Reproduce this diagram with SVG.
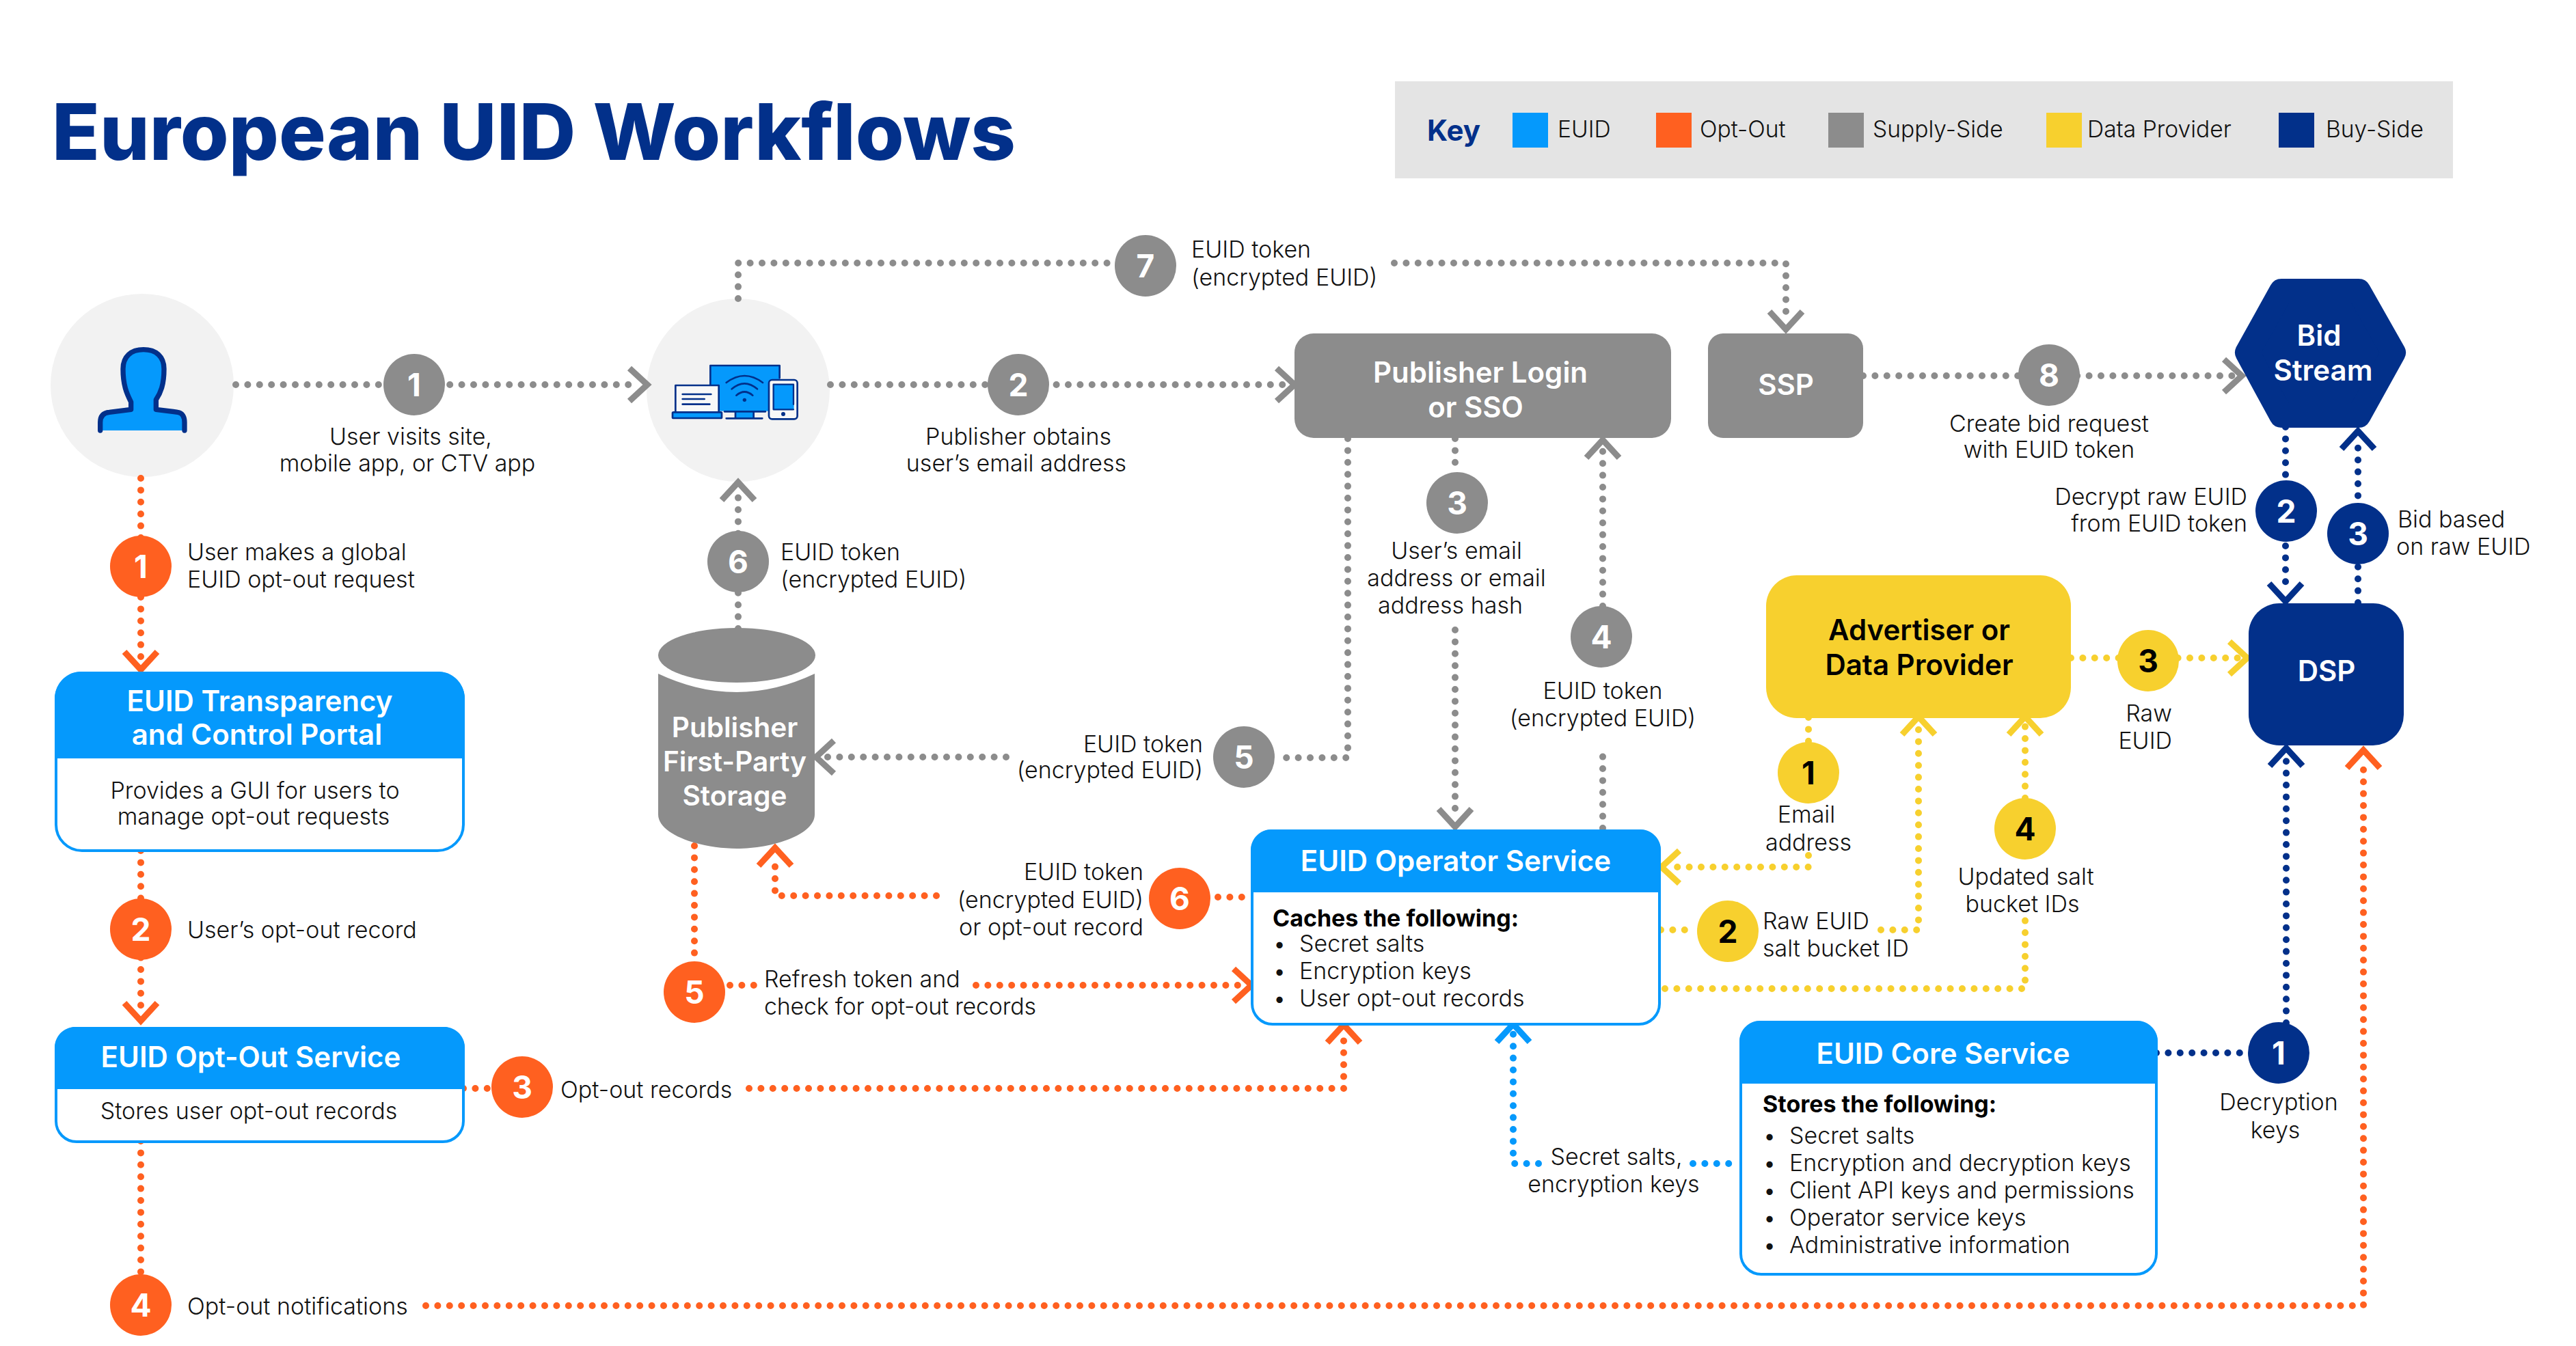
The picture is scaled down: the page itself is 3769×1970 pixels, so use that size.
<svg xmlns="http://www.w3.org/2000/svg" width="3769" height="1970" viewBox="0 0 3769 1970">
<style>
text{font-family:"Inter","Liberation Sans",sans-serif}
.l{font-size:34px;font-weight:300;fill:#111}
.c{text-anchor:middle}
.r{text-anchor:end}
.h{font-size:42px;font-weight:600;fill:#fff;text-anchor:middle}
.s{font-size:40.5px}
.b{font-size:34px;font-weight:700;fill:#000}
.n{font-size:46px;font-weight:700;text-anchor:middle;fill:#fff}
.k{fill:#000}
.kk{font-size:33.6px}
.d{fill:none;stroke-width:10;stroke-linecap:round;stroke-linejoin:round;stroke-dasharray:0 17.4}
.gy{stroke:#8c8c8c}.or{stroke:#ff6020}.ye{stroke:#f7d02e}.na{stroke:#02308a}.bl{stroke:#0599fc}
.fg{fill:#8c8c8c}.fo{fill:#ff6020}.fy{fill:#f7d02e}.fn{fill:#02308a}.fb{fill:#0599fc}
.ico{stroke:#02308a;stroke-linecap:round;stroke-linejoin:round}
</style>
<defs>
<marker id="mg" markerUnits="userSpaceOnUse" markerWidth="1" markerHeight="1" overflow="visible" orient="auto"><path d="M-14,-24 L12,0 L-14,24" fill="none" stroke="#8c8c8c" stroke-width="9"/></marker>
<marker id="mo" markerUnits="userSpaceOnUse" markerWidth="1" markerHeight="1" overflow="visible" orient="auto"><path d="M-14,-24 L12,0 L-14,24" fill="none" stroke="#ff6020" stroke-width="9"/></marker>
<marker id="my" markerUnits="userSpaceOnUse" markerWidth="1" markerHeight="1" overflow="visible" orient="auto"><path d="M-14,-24 L12,0 L-14,24" fill="none" stroke="#f7d02e" stroke-width="9"/></marker>
<marker id="mn" markerUnits="userSpaceOnUse" markerWidth="1" markerHeight="1" overflow="visible" orient="auto"><path d="M-14,-24 L12,0 L-14,24" fill="none" stroke="#02308a" stroke-width="9"/></marker>
<marker id="mb" markerUnits="userSpaceOnUse" markerWidth="1" markerHeight="1" overflow="visible" orient="auto"><path d="M-14,-24 L12,0 L-14,24" fill="none" stroke="#0599fc" stroke-width="9"/></marker>
</defs>
<rect width="3769" height="1970" fill="#fff"/>
<text id="title" x="76" y="234" font-size="114" font-weight="800" fill="#02308a" textLength="1410" lengthAdjust="spacingAndGlyphs">European UID Workflows</text>
<g id="key">
<rect x="2041" y="119" width="1548" height="142" fill="#e4e4e4"/>
<text x="2088" y="206" font-size="42" font-weight="700" fill="#02308a">Key</text>
<rect x="2213" y="165" width="52" height="51" class="fb"/><text x="2279" y="201" class="l kk">EUID</text>
<rect x="2423" y="165" width="52" height="51" class="fo"/><text x="2487" y="201" class="l kk">Opt-Out</text>
<rect x="2675" y="165" width="52" height="51" class="fg"/><text x="2740" y="201" class="l kk">Supply-Side</text>
<rect x="2994" y="165" width="52" height="51" class="fy"/><text x="3054" y="201" class="l kk">Data Provider</text>
<rect x="3334" y="165" width="52" height="51" class="fn"/><text x="3403" y="201" class="l kk">Buy-Side</text>
</g>
<g id="node-user">
<circle cx="208" cy="564" r="134" fill="#f2f2f2"/>
<g transform="translate(120,490) scale(.3333)">
<path class="fb" d="M80,420V385C80,355 95,342 120,340L215,328L215,295C195,255 180,220 180,150C180,95 215,65 270,65C325,65 360,95 360,150C360,220 345,255 325,285L325,328L420,340C440,342 450,360 450,385V420Z"/>
<path class="ico" fill="none" stroke-width="22" d="M80,420V385C80,355 95,342 120,340L215,328L215,295C195,255 180,220 180,150C180,95 215,65 270,65C325,65 360,95 360,150C360,220 345,255 325,285L325,328L420,340C440,342 450,360 450,385V420"/>
</g>
</g>
<g id="node-devices">
<circle cx="1080" cy="571" r="134" fill="#f2f2f2"/>
<g transform="translate(970,520) scale(.3333)">
<rect x="208" y="45" width="304" height="200" class="fb"/>
<path class="ico" fill="none" stroke-width="8" d="M208,45H512M208,45V130M512,45V100"/>
<path d="M278,120Q358,60 438,120M302,148Q358,100 414,148M322,176Q358,145 394,176" fill="none" class="ico" stroke-width="8"/>
<circle cx="358" cy="196" r="8" fill="#02308a"/>
<rect x="318" y="248" width="80" height="28" class="fb"/>
<path class="ico" fill="none" stroke-width="8" d="M270,247H450M318,248V276M398,248V276M278,277H436"/>
<rect x="55" y="132" width="190" height="118" fill="#f8f8f8" class="ico" stroke-width="8"/>
<path class="ico" fill="none" stroke-width="8" d="M86,171H211M86,192H182M86,215H205"/>
<rect x="42" y="250" width="216" height="26" rx="4" class="fb ico" stroke-width="8"/>
<rect x="465" y="108" width="125" height="172" rx="14" fill="#f8f8f8" class="ico" stroke-width="8"/>
<rect x="485" y="128" width="90" height="112" class="fb"/>
<path class="ico" fill="none" stroke-width="7" d="M485,128H573V215M485,128V238H573"/>
<circle cx="528" cy="258" r="9" fill="#02308a"/>
</g>
</g>
<g transform="translate(0,2)">
<g id="connectors">
<path class="d gy" d="M345,561H935" marker-end="url(#mg)"/>
<path class="d gy" d="M1215,561H1882" marker-end="url(#mg)"/>
<path class="d gy" d="M1080,435V383H1630"/>
<path class="d gy" d="M2040,383H2613V468" marker-end="url(#mg)"/>
<path class="d gy" d="M2726,548H3268" marker-end="url(#mg)"/>
<path class="d gy" d="M1080,918V716" marker-end="url(#mg)"/>
<path class="d gy" d="M2129,640V690"/>
<path class="d gy" d="M2129,920V1196" marker-end="url(#mg)"/>
<path class="d gy" d="M2345,1210V1090"/>
<path class="d gy" d="M2345,885V654" marker-end="url(#mg)"/>
<path class="d gy" d="M1972,640V1107H1875"/>
<path class="d gy" d="M1472,1106H1206" marker-end="url(#mg)"/>
<path class="d or" d="M206,698V966" marker-end="url(#mo)"/>
<path class="d or" d="M206,1243V1480" marker-end="url(#mo)"/>
<path class="d or" d="M678,1591H722"/>
<path class="d or" d="M1096,1591H1966V1510" marker-end="url(#mo)"/>
<path class="d or" d="M206,1668V1865"/>
<path class="d or" d="M623,1909H3458V1108" marker-end="url(#mo)"/>
<path class="d or" d="M1016,1236V1403"/>
<path class="d or" d="M1068,1440H1106"/>
<path class="d or" d="M1428,1440H1819" marker-end="url(#mo)"/>
<path class="d or" d="M1782,1311H1832"/>
<path class="d or" d="M1370,1309H1134V1251" marker-end="url(#mo)"/>
<path class="d ye" d="M2646,1048V1085"/>
<path class="d ye" d="M2646,1250V1267H2443" marker-end="url(#my)"/>
<path class="d ye" d="M2430,1359H2482"/>
<path class="d ye" d="M2752,1359H2807V1059" marker-end="url(#my)"/>
<path class="d ye" d="M2436,1445H2963V1342"/>
<path class="d ye" d="M2963,1166V1059" marker-end="url(#my)"/>
<path class="d ye" d="M3030,961H3276" marker-end="url(#my)"/>
<path class="d na" d="M3344,623V866" marker-end="url(#mn)"/>
<path class="d na" d="M3450,880V641" marker-end="url(#mn)"/>
<path class="d na" d="M3155,1539H3290"/>
<path class="d na" d="M3345,1495V1105" marker-end="url(#mn)"/>
<path class="d bl" d="M2251,1701H2214V1509" marker-end="url(#mb)"/>
<path class="d bl" d="M2477,1701H2545"/>
</g>
<g id="node-publisher"><rect x="1894" y="486" width="551" height="153" rx="28" class="fg"/><text x="2166" y="558" class="h">Publisher Login</text><text x="2159" y="609" class="h">or SSO</text></g>
<g id="node-ssp"><rect x="2499" y="486" width="227" height="153" rx="22" class="fg"/><text x="2613" y="576" class="h">SSP</text></g>
<g id="node-bidstream"><path d="M3338,424H3451L3502,514L3451,606H3338L3288,514Z" class="fn" stroke="#02308a" stroke-width="36" stroke-linejoin="round"/><text x="3393" y="504" class="h">Bid</text><text x="3399" y="555" class="h">Stream</text></g>
<g id="node-dsp"><rect x="3290" y="881" width="227" height="208" rx="45" class="fn"/><text x="3404" y="995" class="h">DSP</text></g>
<g id="node-advertiser"><rect x="2584" y="840" width="446" height="209" rx="45" class="fy"/><text x="2808" y="935" class="h k">Advertiser or</text><text x="2808" y="986" class="h k">Data Provider</text></g>
<g id="node-storage">
<ellipse cx="1078" cy="957" rx="115" ry="40" class="fg"/>
<path d="M963,984Q1078,1038 1192,984V1190C1192,1220 1130,1240 1078,1240C1026,1240 963,1220 963,1190Z" class="fg"/>
<text x="1075" y="1077" class="h s">Publisher</text><text x="1075" y="1127" class="h s">First-Party</text><text x="1075" y="1177" class="h s">Storage</text>
</g>
<g id="node-portal">
<rect x="82" y="983" width="596" height="260" rx="38" fill="#fff" stroke="#0599fc" stroke-width="4"/>
<path d="M80,1108V1021C80,998 98,981 118,981H642C662,981 680,998 680,1021V1108Z" class="fb"/>
<text x="380" y="1039" class="h">EUID Transparency</text><text x="376" y="1088" class="h">and Control Portal</text>
<text x="373" y="1167" class="l c">Provides a GUI for users to</text><text x="371" y="1205" class="l c">manage opt-out requests</text>
</g>
<g id="node-optout">
<rect x="82" y="1503" width="596" height="166" rx="30" fill="#fff" stroke="#0599fc" stroke-width="4"/>
<path d="M80,1592V1531C80,1514 94,1501 110,1501H650C666,1501 680,1514 680,1531V1592Z" class="fb"/>
<text x="367" y="1560" class="h">EUID Opt-Out Service</text><text x="364" y="1636" class="l c">Stores user opt-out records</text>
</g>
<g id="node-operator">
<rect x="1832" y="1214" width="596" height="283" rx="30" fill="#fff" stroke="#0599fc" stroke-width="4"/>
<path d="M1830,1304V1242C1830,1225 1844,1212 1860,1212H2400C2416,1212 2430,1225 2430,1242V1304Z" class="fb"/>
<text x="2130" y="1273" class="h">EUID Operator Service</text>
<text x="1862" y="1354" class="b">Caches the following:</text>
<text x="1872" y="1391" class="l c">•</text><text x="1901" y="1391" class="l">Secret salts</text>
<text x="1872" y="1431" class="l c">•</text><text x="1901" y="1431" class="l">Encryption keys</text>
<text x="1872" y="1471" class="l c">•</text><text x="1901" y="1471" class="l">User opt-out records</text>
</g>
<g id="node-core">
<rect x="2547" y="1494" width="608" height="369" rx="30" fill="#fff" stroke="#0599fc" stroke-width="4"/>
<path d="M2545,1584V1522C2545,1505 2559,1492 2575,1492H3127C3143,1492 3157,1505 3157,1522V1584Z" class="fb"/>
<text x="2843" y="1555" class="h">EUID Core Service</text>
<text x="2579" y="1626" class="b">Stores the following:</text>
<text x="2589" y="1672" class="l c">•</text><text x="2618" y="1672" class="l">Secret salts</text>
<text x="2589" y="1712" class="l c">•</text><text x="2618" y="1712" class="l">Encryption and decryption keys</text>
<text x="2589" y="1752" class="l c">•</text><text x="2618" y="1752" class="l">Client API keys and permissions</text>
<text x="2589" y="1792" class="l c">•</text><text x="2618" y="1792" class="l">Operator service keys</text>
<text x="2589" y="1832" class="l c">•</text><text x="2618" y="1832" class="l">Administrative information</text>
</g>
<g id="badges">
<g id="badge-g1"><circle cx="606" cy="561" r="45" class="fg"/><text x="606" y="578" class="n">1</text></g>
<g id="badge-g2"><circle cx="1490" cy="561" r="45" class="fg"/><text x="1490" y="578" class="n">2</text></g>
<g id="badge-g3"><circle cx="2132" cy="734" r="45" class="fg"/><text x="2132" y="751" class="n">3</text></g>
<g id="badge-g4"><circle cx="2343" cy="930" r="45" class="fg"/><text x="2343" y="947" class="n">4</text></g>
<g id="badge-g5"><circle cx="1820" cy="1106" r="45" class="fg"/><text x="1820" y="1123" class="n">5</text></g>
<g id="badge-g6"><circle cx="1080" cy="820" r="45" class="fg"/><text x="1080" y="837" class="n">6</text></g>
<g id="badge-g7"><circle cx="1676" cy="387" r="45" class="fg"/><text x="1676" y="404" class="n">7</text></g>
<g id="badge-g8"><circle cx="2998" cy="547" r="45" class="fg"/><text x="2998" y="564" class="n">8</text></g>
<g id="badge-o1"><circle cx="206" cy="827" r="45" class="fo"/><text x="206" y="844" class="n">1</text></g>
<g id="badge-o2"><circle cx="206" cy="1358" r="45" class="fo"/><text x="206" y="1375" class="n">2</text></g>
<g id="badge-o3"><circle cx="764" cy="1589" r="45" class="fo"/><text x="764" y="1606" class="n">3</text></g>
<g id="badge-o4"><circle cx="206" cy="1908" r="45" class="fo"/><text x="206" y="1925" class="n">4</text></g>
<g id="badge-o5"><circle cx="1016" cy="1450" r="45" class="fo"/><text x="1016" y="1467" class="n">5</text></g>
<g id="badge-o6"><circle cx="1726" cy="1313" r="45" class="fo"/><text x="1726" y="1330" class="n">6</text></g>
<g id="badge-y1"><circle cx="2646" cy="1129" r="45" class="fy"/><text x="2646" y="1146" class="n k">1</text></g>
<g id="badge-y2"><circle cx="2528" cy="1361" r="45" class="fy"/><text x="2528" y="1378" class="n k">2</text></g>
<g id="badge-y3"><circle cx="3143" cy="965" r="45" class="fy"/><text x="3143" y="982" class="n k">3</text></g>
<g id="badge-y4"><circle cx="2963" cy="1211" r="45" class="fy"/><text x="2963" y="1228" class="n k">4</text></g>
<g id="badge-n1"><circle cx="3334" cy="1539" r="45" class="fn"/><text x="3334" y="1556" class="n">1</text></g>
<g id="badge-n2"><circle cx="3345" cy="746" r="45" class="fn"/><text x="3345" y="763" class="n">2</text></g>
<g id="badge-n3"><circle cx="3450" cy="779" r="45" class="fn"/><text x="3450" y="796" class="n">3</text></g>
</g>
<g id="labels">
<text x="601" y="649" class="l c">User visits site,</text><text x="596" y="688" class="l c">mobile app, or CTV app</text>
<text x="1490" y="649" class="l c">Publisher obtains</text><text x="1487" y="688" class="l c">user’s email address</text>
<text x="1743" y="375" class="l">EUID token</text><text x="1743" y="416" class="l">(encrypted EUID)</text>
<text x="2998" y="630" class="l c">Create bid request</text><text x="2998" y="668" class="l c">with EUID token</text>
<text x="3288" y="737" class="l r">Decrypt raw EUID</text><text x="3288" y="776" class="l r">from EUID token</text>
<text x="3508" y="770" class="l">Bid based</text><text x="3506" y="810" class="l">on raw EUID</text>
<text x="3178" y="1054" class="l r">Raw</text><text x="3178" y="1094" class="l r">EUID</text>
<text x="2131" y="816" class="l c">User’s email</text><text x="2131" y="856" class="l c">address or email</text><text x="2122" y="896" class="l c">address hash</text>
<text x="2345" y="1021" class="l c">EUID token</text><text x="2345" y="1061" class="l c">(encrypted EUID)</text>
<text x="1760" y="1099" class="l r">EUID token</text><text x="1760" y="1137" class="l r">(encrypted EUID)</text>
<text x="1142" y="818" class="l">EUID token</text><text x="1142" y="858" class="l">(encrypted EUID)</text>
<text x="274" y="818" class="l">User makes a global</text><text x="274" y="858" class="l">EUID opt-out request</text>
<text x="274" y="1371" class="l">User’s opt-out record</text>
<text x="274" y="1922" class="l">Opt-out notifications</text>
<text x="820" y="1605" class="l">Opt-out records</text>
<text x="1118" y="1443" class="l">Refresh token and</text><text x="1118" y="1483" class="l" textLength="398">check for opt-out records</text>
<text x="1673" y="1286" class="l r">EUID token</text><text x="1673" y="1327" class="l r">(encrypted EUID)</text><text x="1673" y="1367" class="l r">or opt-out record</text>
<text x="2643" y="1202" class="l c">Email</text><text x="2646" y="1243" class="l c">address</text>
<text x="2579" y="1358" class="l">Raw EUID</text><text x="2579" y="1398" class="l">salt bucket ID</text>
<text x="2964" y="1293" class="l c">Updated salt</text><text x="2959" y="1333" class="l c">bucket IDs</text>
<text x="2365" y="1703" class="l c">Secret salts,</text><text x="2361" y="1743" class="l c">encryption keys</text>
<text x="3334" y="1623" class="l c">Decryption</text><text x="3329" y="1664" class="l c">keys</text>
</g>
</g>
</svg>
